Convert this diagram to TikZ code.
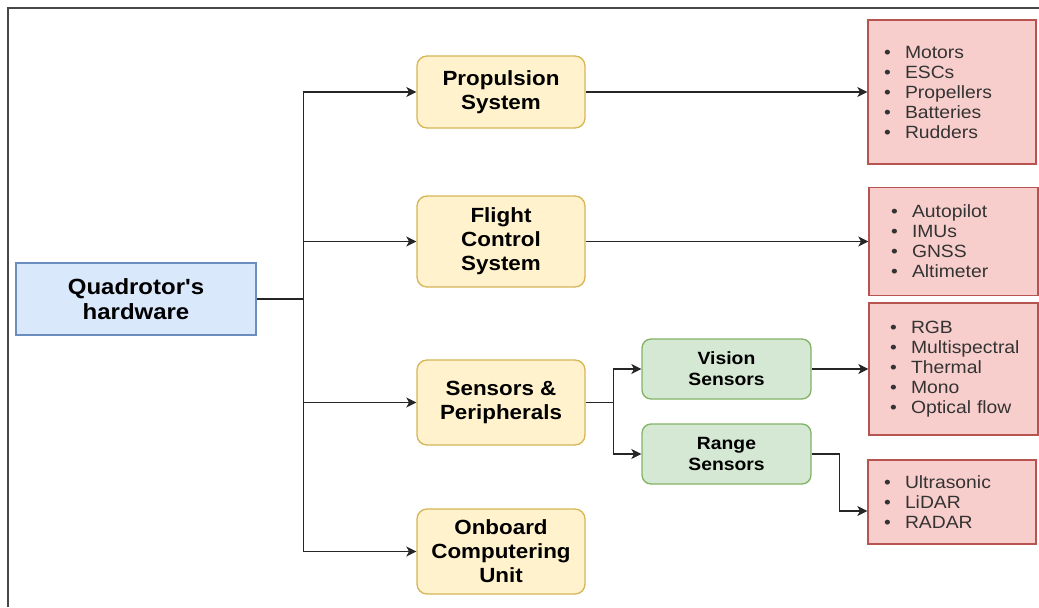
\documentclass[tikz,border=0pt]{standalone}
\usepackage{fontspec}
\setmainfont{Liberation Sans}[FakeStretch=1.09]
\newfontfamily\hwfont{Liberation Sans}[FakeStretch=1.09, Ligatures=TeXOff]
\usetikzlibrary{arrows.meta}
\newlength\pxu
\setlength\pxu{0.75pt}
\definecolor{hwfill}{HTML}{DAE8FC}
\definecolor{hwborder}{HTML}{6C8EBF}
\definecolor{sysfill}{HTML}{FFF2CC}
\definecolor{sysborder}{HTML}{D6B656}
\definecolor{grnfill}{HTML}{D5E8D4}
\definecolor{grnborder}{HTML}{82B366}
\definecolor{redfill}{HTML}{F8CECC}
\definecolor{redborder}{HTML}{B85450}
\definecolor{listtext}{HTML}{333333}
\newcommand\itm[1]{\makebox[21\pxu][l]{\textbullet}#1}
\tikzset{
  frameline/.style={draw=black!72, line width=1.5pt},
  hwbox/.style={draw=hwborder, fill=hwfill, line width=1pt, minimum width=240\pxu, minimum height=72\pxu, inner sep=0pt, align=center, font=\hwfont\fontsize{16.5}{19}\selectfont\bfseries},
  sysbox/.style={draw=sysborder, fill=sysfill, line width=1pt, rounded corners=10\pxu, minimum width=168\pxu, inner sep=0pt, align=center, font=\fontsize{15.4}{18}\selectfont\bfseries},
  grnbox/.style={draw=grnborder, fill=grnfill, line width=1pt, rounded corners=9\pxu, minimum width=169\pxu, minimum height=60\pxu, inner sep=0pt, align=center, font=\fontsize{13.3}{15.75}\selectfont\bfseries},
  listbox/.style={draw=redborder, fill=redfill, line width=1pt, inner ysep=0pt, text=listtext, align=left, font=\fontsize{13.3}{15}\selectfont},
  conn/.style={draw=black!85, line width=1pt, -{Stealth[length=7.5pt, width=7.5pt, inset=2pt]}},
  plainconn/.style={draw=black!85, line width=1pt},
}
\begin{document}
\begin{tikzpicture}[x=0.75pt, y=-0.75pt]
\useasboundingbox (0,0) rectangle (1039,607);
\draw[frameline] (7.5,607) -- (7.5,7.5) -- (1039,7.5);

\node[hwbox] (hw) at (136,299) {Quadrotor's\\hardware};

\node[sysbox, minimum height=72\pxu] (prop) at (501,92) {Propulsion\\System};
\node[sysbox, minimum height=91\pxu] (fcs) at (501,241.5) {Flight\\Control\\System};
\node[sysbox, minimum height=85\pxu] (sens) at (501,402.5) {Sensors \&\\Peripherals};
\node[sysbox, minimum height=85\pxu] (obc) at (501,551.5) {Onboard\\Computering\\Unit};

\node[grnbox] (vis) at (726.5,369) {Vision\\Sensors};
\node[grnbox] (rng) at (726.5,454) {Range\\Sensors};

\node[listbox, minimum width=168\pxu, minimum height=144\pxu, inner xsep=16\pxu, text width=136\pxu] (l1) at (952,92)
  {\itm{Motors}\\\itm{ESCs}\\\itm{Propellers}\\\itm{Batteries}\\\itm{Rudders}};
\node[listbox, minimum width=169\pxu, minimum height=108\pxu, inner xsep=22\pxu, text width=125\pxu] (l2) at (953.5,241.5)
  {\itm{Autopilot}\\\itm{IMUs}\\\itm{GNSS}\\\itm{Altimeter}};
\node[listbox, minimum width=169\pxu, minimum height=132\pxu, inner xsep=21\pxu, text width=127\pxu] (l3) at (953.5,369)
  {\itm{RGB}\\\itm{Multispectral}\\\itm{Thermal}\\\itm{Mono}\\\itm{Optical flow}};
\node[listbox, minimum width=168\pxu, minimum height=84\pxu, inner xsep=16\pxu, text width=136\pxu] (l4) at (952,502)
  {\itm{Ultrasonic}\\\itm{LiDAR}\\\itm{RADAR}};

\draw[plainconn] (hw.east) -- ++(47,0) coordinate (trunk);
\draw[conn] (trunk) |- (prop.west);
\draw[conn] (trunk) |- (fcs.west);
\draw[conn] (trunk) |- (sens.west);
\draw[conn] (trunk) |- (obc.west);

\draw[conn] (prop.east) -- (l1.west);
\draw[conn] (fcs.east) -- (l2.west);

\draw[plainconn] (sens.east) -- ++(28,0) coordinate (sj);
\draw[conn] (sj) |- (vis.west);
\draw[conn] (sj) |- (rng.west);

\draw[conn] (vis.east) -- (l3.west);
\draw[conn] (rng.east) -- ++(28,0) |- ([yshift=-6.75pt]l4.west);
\end{tikzpicture}
\end{document}
